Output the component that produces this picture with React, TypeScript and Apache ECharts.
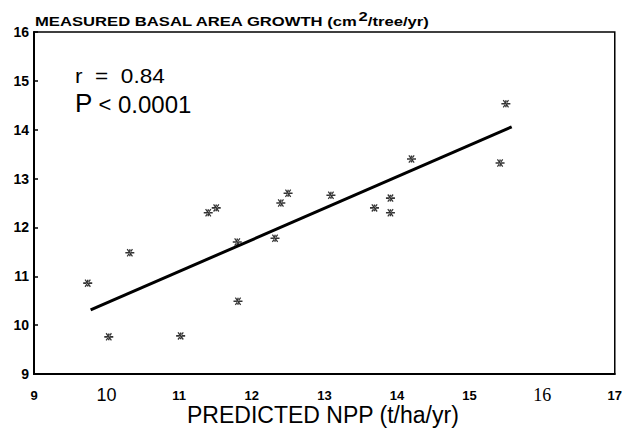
import React, { useEffect, useRef } from "react";
import * as echarts from "echarts";

// Measured points (predicted NPP, measured basal area growth)
const npp = [9.74, 10.03, 10.32, 11.02, 11.81, 11.8, 11.4, 11.51, 12.32, 12.4, 12.5, 13.09, 13.69, 13.91, 13.91, 14.2, 15.42, 15.5];
const growth = [10.86, 9.76, 11.48, 9.78, 10.49, 11.7, 12.3, 12.4, 11.78, 12.5, 12.7, 12.66, 12.4, 12.6, 12.3, 13.4, 13.32, 14.53];

// Regression line end points
const fitX = [9.78, 15.58];
const fitY = [10.31, 14.06];

// Axis ranges and labels
const xRange = [9, 17];
const yRange = [9, 16];
const xLabelStyle: Record<number, string> = { 9: "b", 10: "n", 11: "b", 12: "b", 13: "b", 14: "b", 15: "b", 16: "s", 17: "b" };

const titleText = "MEASURED BASAL AREA GROWTH (cm";
const titleSup = "2";
const titleTail = "/tree/yr)";
const xName = "PREDICTED NPP (t/ha/yr)";
const rText = "r  =  0.84";
const pSymbol = "P";
const pLess = " <";
const pValue = " 0.0001";

const star =
  "path://M0,4.1 L10,4.1 L10,5.9 L0,5.9 Z M4.2,1 L5.8,1 L5.8,9 L4.2,9 Z M1.5,1.3 L2.6,0.4 L8.5,8.7 L7.4,9.6 Z M8.5,1.3 L7.4,0.4 L1.5,8.7 L2.6,9.6 Z";

export default function App() {
  const ref = useRef<HTMLDivElement>(null);
  useEffect(() => {
    document.body.style.margin = "0";
    const chart = echarts.init(ref.current!, null, { renderer: "svg" });
    const font = "Liberation Sans, Arial, sans-serif";
    chart.setOption({
      animation: false,
      backgroundColor: "#fff",
      grid: {
        left: 34,
        right: 8,
        top: 32,
        bottom: 55,
        show: true,
        borderColor: "#000",
        borderWidth: 1.5,
        containLabel: false,
      },
      xAxis: {
        type: "value",
        min: xRange[0],
        max: xRange[1],
        interval: 1,
        splitLine: { show: false },
        axisLine: { lineStyle: { color: "#000", width: 2 } },
        axisTick: { show: false },
        axisLabel: {
          margin: 12,
          formatter: (v: number) => `{${xLabelStyle[v] || "b"}|${v}}`,
          rich: {
            b: { fontFamily: font, fontWeight: "bold", fontSize: 13, color: "#000", lineHeight: 18 },
            n: { fontFamily: "Liberation Sans Narrow, Liberation Sans, sans-serif", fontSize: 18, color: "#000", lineHeight: 18 },
            s: { fontFamily: "Liberation Serif, serif", fontSize: 18, color: "#000", lineHeight: 18 },
          },
        },
      },
      yAxis: {
        type: "value",
        min: yRange[0],
        max: yRange[1],
        interval: 1,
        splitLine: { show: false },
        axisLine: { lineStyle: { color: "#000", width: 2 } },
        axisTick: { show: true, inside: true, length: 4, lineStyle: { color: "#000", width: 1.5 } },
        axisLabel: { margin: 5, fontFamily: font, fontWeight: "bold", fontSize: 14, color: "#000" },
      },
      graphic: [
        {
          type: "text",
          x: 35,
          y: 20,
          scaleX: 1.28,
          style: {
            text: `{t|${titleText}}{s|${titleSup}}{t|${titleTail}}`,
            verticalAlign: "middle",
            align: "left",
            rich: {
              t: { fontFamily: font, fontWeight: "bold", fontSize: 13, fill: "#000", lineHeight: 16, verticalAlign: "bottom" },
              s: { fontFamily: font, fontWeight: "bold", fontSize: 13, fill: "#000", lineHeight: 16, verticalAlign: "bottom", padding: [0, 0, 5, 0] },
            },
          },
        },
        {
          type: "text",
          x: 75,
          y: 76,
          scaleX: 1.13,
          style: { text: rText, fontFamily: font, fontSize: 20, fill: "#000", verticalAlign: "middle", align: "left" },
        },
        {
          type: "text",
          x: 75,
          y: 103,
          style: {
            text: `{p|${pSymbol}}{q|${pLess}}{r|${pValue}}`,
            verticalAlign: "middle",
            align: "left",
            rich: {
              p: { fontFamily: font, fontSize: 26, fill: "#000", lineHeight: 26, verticalAlign: "bottom" },
              q: { fontFamily: font, fontSize: 22, fill: "#000", lineHeight: 26, verticalAlign: "bottom", padding: [0, 0, 1, 0] },
              r: { fontFamily: font, fontSize: 24, fill: "#000", lineHeight: 26, verticalAlign: "bottom" },
            },
          },
        },
        {
          type: "text",
          x: 187,
          y: 415,
          style: { text: xName, fontFamily: font, fontSize: 23, fill: "#000", verticalAlign: "middle", align: "left" },
        },
      ],
      series: [
        {
          type: "line",
          data: fitX.map((x, i) => [x, fitY[i]]),
          symbol: "none",
          lineStyle: { color: "#000", width: 3 },
          silent: true,
        },
        {
          type: "scatter",
          data: npp.map((x, i) => [x, growth[i]]),
          symbol: star,
          symbolSize: [9, 8],
          itemStyle: { color: "#000" },
        },
      ],
    });
    return () => chart.dispose();
  }, []);
  return <div ref={ref} style={{ width: 625, height: 429, position: "absolute", left: 0, top: 0 }} />;
}
